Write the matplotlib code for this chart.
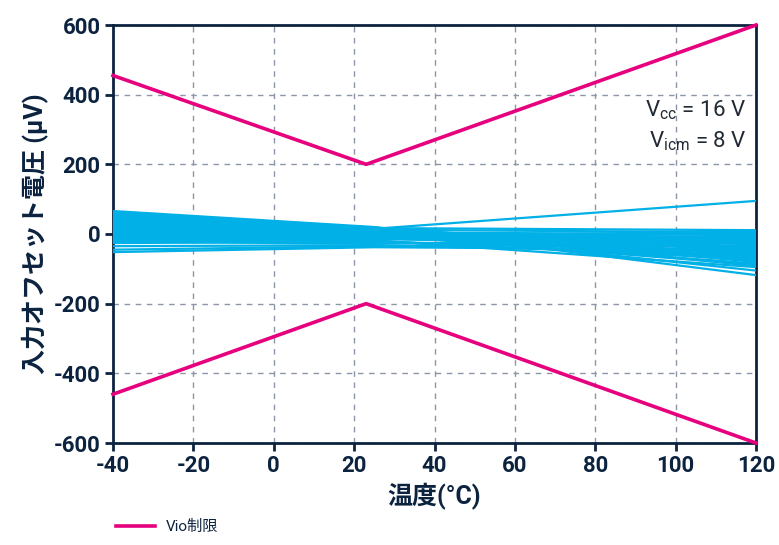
import matplotlib
matplotlib.use("Agg")
import matplotlib.pyplot as plt
from matplotlib.lines import Line2D

plt.rcParams['font.family'] = ['Roboto', 'Noto Sans CJK JP', 'DejaVu Sans']
plt.rcParams['mathtext.fontset'] = 'custom'
plt.rcParams['mathtext.rm'] = 'Roboto'
plt.rcParams['axes.unicode_minus'] = False

NAVY = '#0c2340'
PINK = '#e6007e'
BLUE = '#00b0e6'
GRID = '#8c96a8'

# Vio limit (upper / lower), breakpoints in temperature
limit_temps = [-40, 23, 120]
limit_upper = [455, 200, 600]
limit_lower = [-460, -200, -600]

# Measured units: offset voltage at -40, 25, 120 °C
unit_temps = [-40, 25, 120]
v_m40 = [66, 60, 55, 62, 50, 45, 58, 40, 35, 48, 30, 52, 25, 42, 20, 38, 15, 28, 10, 32,
         5, 22, 0, 18, -5, 12, -10, 8, -15, 2, -20, -4, -26, -8, -12, -18, -22, -35, -45, -52]
v_25 = [20, 18, 12, 16, 14, 8, 17, 6, 15, 15, 2, 19, 4, 9, -2, 11, 0, 5, -4, 7,
        -8, 3, -6, -1, -10, -3, -14, -5, -12, -7, -18, -9, -22, -15, -20, -25, -28, -32, -35, -38]
v_120 = [-92, -60, 5, -80, -40, -20, 11, -70, 95, -50, -10, -118, 0, -30, -85, -105, -15, -45, -65, -25,
         8, -75, -35, -55, 2, -88, -5, -62, -42, -18, -95, -8, -50, -28, -72, -38, -12, -58, -22, -45]

xticks = [-40, -20, 0, 20, 40, 60, 80, 100, 120]
yticks = [-600, -400, -200, 0, 200, 400, 600]

fig = plt.figure(figsize=(7.79, 5.45), dpi=100)
ax = fig.add_axes([113/779, 1-443/545, (756-113)/779, (443-25)/545])

for a, b, c in zip(v_m40, v_25, v_120):
    ax.plot(unit_temps, [a, b, c], color=BLUE, lw=1.6, solid_joinstyle='miter', zorder=3)

ax.plot(limit_temps, limit_upper, color=PINK, lw=2.6, zorder=4, clip_on=False)
ax.plot(limit_temps, limit_lower, color=PINK, lw=2.6, zorder=4, clip_on=False)

ax.set_xlim(-40, 120)
ax.set_ylim(-600, 600)
ax.set_xticks(xticks)
ax.set_yticks(yticks)
ax.grid(True, color=GRID, linestyle=(0, (4, 4)), lw=1.0, zorder=1)
ax.set_axisbelow(True)
for s in ax.spines.values():
    s.set_color(NAVY)
    s.set_linewidth(2.0)
ax.tick_params(axis='both', colors=NAVY, width=2.0, length=6, direction='out',
               labelsize=16, pad=3)
for lab in ax.get_xticklabels() + ax.get_yticklabels():
    lab.set_fontweight('bold')

ax.set_xlabel('温度(°C)', fontsize=18, fontweight='bold', color=NAVY, labelpad=4)
ax.set_ylabel('入力オフセット電圧 (µV)', fontsize=18, fontweight='bold', color=NAVY, labelpad=4)

ax.text(0.985, 0.795, r'$\mathregular{V_{cc}}$ = 16 V', transform=ax.transAxes,
        ha='right', va='center', fontsize=16, color='#222a35')
ax.text(0.985, 0.722, r'$\mathregular{V_{icm}}$ = 8 V', transform=ax.transAxes,
        ha='right', va='center', fontsize=16, color='#222a35')

handle = Line2D([], [], color=PINK, lw=2.6)
fig.legend([handle], ['Vio制限'], loc='lower left', bbox_to_anchor=(102/779, -0.005),
           frameon=False, fontsize=11, handlelength=2.6, handletextpad=0.7,
           labelcolor=NAVY)

fig.savefig('out.png', dpi=100)
